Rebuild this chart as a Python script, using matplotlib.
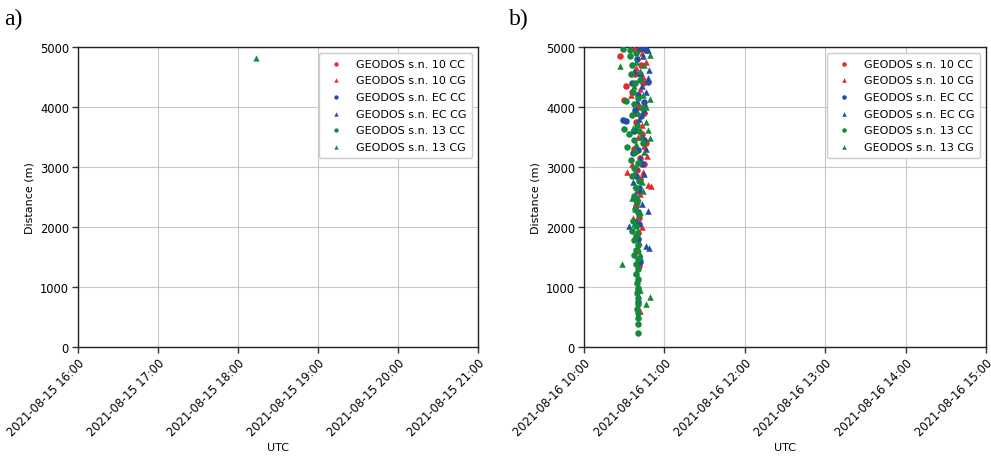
import matplotlib
matplotlib.use("Agg")
import matplotlib.pyplot as plt
import matplotlib.dates as mdates
import pandas as pd

# ---------------- data ----------------
series_labels = ["GEODOS s.n. 10 CC", "GEODOS s.n. 10 CG",
                 "GEODOS s.n. EC CC", "GEODOS s.n. EC CG",
                 "GEODOS s.n. 13 CC", "GEODOS s.n. 13 CG"]

# Panel a) 2021-08-15 : only one detection (13 CG)
a_13cg_time = ["2021-08-15 18:13:30"]
a_13cg_dist = [4820]

# Panel b) 2021-08-16
b_10cc_time = ["10:27:00", "10:31:00", "10:29:30", "10:40:00", "10:42:30", "10:38:00", "10:44:00",
               "10:36:00", "10:41:00", "10:45:00", "10:39:00", "10:43:00", "10:46:00", "10:37:30",
               "10:41:30", "10:44:30", "10:39:30", "10:42:00", "10:40:00", "10:38:30", "10:41:00",
               "10:40:30", "10:39:30", "10:41:00", "10:40:30"]
b_10cc_dist = [4850, 4350, 4120, 4950, 4700, 4550, 4400, 4250, 4000, 3900, 3750, 3550, 3400, 3300,
               3150, 3050, 2950, 2800, 2600, 2350, 2150, 1900, 1600, 1350, 950]

b_10cg_time = ["10:37:00", "10:43:30", "10:46:00", "10:39:00", "10:44:00", "10:41:30", "10:35:00",
               "10:45:30", "10:38:00", "10:43:00", "10:40:30", "10:44:30", "10:47:00", "10:36:00",
               "10:32:00", "10:44:00", "10:48:00", "10:50:00", "10:42:00", "10:39:00", "10:36:30",
               "10:43:00", "10:41:00", "10:40:00", "10:41:30"]
b_10cg_dist = [4980, 4900, 4750, 4650, 4500, 4300, 4200, 4050, 3900, 3700, 3500, 3350, 3180, 3050,
               2920, 2920, 2700, 2680, 2550, 2400, 2150, 2000, 1750, 1150, 600]

b_eccc_time = ["10:44:00", "10:46:00", "10:39:30", "10:42:00", "10:47:30", "10:36:00", "10:40:30",
               "10:44:30", "10:38:00", "10:29:00", "10:31:30", "10:42:30", "10:37:00", "10:45:00",
               "10:40:00", "10:36:30", "10:43:00", "10:38:30", "10:41:00", "10:38:30", "10:40:00",
               "10:41:00", "10:40:00", "10:41:30", "10:40:30"]
b_eccc_dist = [4980, 4950, 4800, 4550, 4420, 4400, 4200, 4080, 3950, 3780, 3760, 3850, 3600, 3450,
               3280, 3230, 3050, 2850, 2650, 2450, 2250, 2050, 1800, 1420, 750]

b_eccg_time = ["10:41:00", "10:47:30", "10:44:00", "10:48:30", "10:48:00", "10:37:00", "10:43:00",
               "10:46:30", "10:39:30", "10:45:00", "10:41:00", "10:38:30", "10:44:00", "10:46:00",
               "10:42:00", "10:39:00", "10:44:30", "10:36:30", "10:41:30", "10:38:00", "10:43:00",
               "10:48:00", "10:33:30", "10:39:00", "10:46:30", "10:48:30", "10:42:00", "10:40:30"]
b_eccg_dist = [4990, 4950, 4850, 4620, 4480, 4600, 4350, 4250, 4100, 3950, 3800, 3650, 3500, 3300,
               3150, 3000, 2880, 2750, 2620, 2550, 2380, 2270, 2010, 2100, 1680, 1650, 1500, 1850]

b_13cc_time = ["10:29:00", "10:34:30", "10:36:00", "10:39:00", "10:35:00", "10:38:00", "10:42:00",
               "10:36:30", "10:40:30", "10:37:00", "10:43:00", "10:35:30", "10:39:30", "10:29:50",
               "10:33:30", "10:41:00", "10:37:00", "10:32:00", "10:38:00", "10:35:00", "10:40:00",
               "10:37:30", "10:36:00", "10:41:00", "10:39:00", "10:37:00", "10:39:30", "10:38:00",
               "10:41:00", "10:36:30", "10:39:00", "10:36:00", "10:38:30", "10:37:30", "10:40:00",
               "10:39:00", "10:37:30", "10:40:30", "10:38:30", "10:40:00", "10:39:00", "10:40:30",
               "10:39:30", "10:40:30", "10:39:30", "10:40:30", "10:40:00", "10:39:30", "10:40:30",
               "10:40:00", "10:40:30", "10:40:30", "10:34:00", "10:31:30", "10:44:00"]
b_13cc_dist = [4960, 4850, 4700, 4900, 4550, 4400, 4450, 4250, 4150, 4050, 3980, 3870, 3700, 3640,
               3550, 3600, 3450, 3330, 3250, 3120, 3060, 2980, 2850, 2770, 2650, 2520, 2420, 2300,
               2200, 2100, 2020, 1930, 1850, 1780, 1700, 1620, 1540, 1460, 1380, 1300, 1220, 1140,
               1060, 980, 900, 810, 720, 640, 560, 480, 390, 240, 4950, 4100, 3400]

b_13cg_time = ["10:27:00", "10:49:00", "10:49:00", "10:49:00", "10:46:30", "10:45:00", "10:38:30",
               "10:41:30", "10:37:00", "10:44:00", "10:40:00", "10:46:00", "10:36:30", "10:42:30",
               "10:47:30", "10:39:00", "10:45:00", "10:41:00", "10:37:30", "10:43:30", "10:40:30",
               "10:36:00", "10:44:00", "10:38:00", "10:42:00", "10:37:00", "10:40:00", "10:41:30",
               "10:28:30", "10:39:00", "10:49:00", "10:46:00", "10:42:00", "10:40:00", "10:38:00"]
b_13cg_dist = [4680, 4870, 4130, 3490, 4000, 4700, 4750, 4600, 4350, 4200, 3900, 3750, 3650, 3500,
               3620, 3380, 3250, 3100, 2900, 2750, 2480, 2480, 2600, 2300, 2250, 2050, 1950, 1550,
               1390, 1250, 840, 710, 950, 1650, 2700]

colors = ["#e8282b", "#e8282b", "#1f4ea6", "#1f4ea6", "#158a3c", "#158a3c"]
markers = ["o", "^", "o", "^", "o", "^"]

# ---------------- figure ----------------
plt.rcParams["font.family"] = ["DejaVu Sans"]
fig = plt.figure(figsize=(9.91, 4.60), dpi=100)
axa = fig.add_axes([0.0787, 0.2435, 0.4036, 0.6522])
axb = fig.add_axes([0.5893, 0.2435, 0.4057, 0.6522])

def to_dt(day, times):
    return pd.to_datetime([f"{day} {t}" for t in times])

a_data = [([], []), ([], []), ([], []), ([], []), ([], []),
          (pd.to_datetime(a_13cg_time), a_13cg_dist)]
b_day = "2021-08-16"
b_data = [(to_dt(b_day, b_10cc_time), b_10cc_dist),
          (to_dt(b_day, b_10cg_time), b_10cg_dist),
          (to_dt(b_day, b_eccc_time), b_eccc_dist),
          (to_dt(b_day, b_eccg_time), b_eccg_dist),
          (to_dt(b_day, b_13cc_time), b_13cc_dist),
          (to_dt(b_day, b_13cg_time), b_13cg_dist)]

def style(ax, start, end, data, msize):
    for (t, d), lab, c, m in zip(data, series_labels, colors, markers):
        if len(t) == 0:
            ax.scatter(pd.to_datetime([]), [], s=msize, c=c, marker=m, label=lab, linewidths=0)
        else:
            ax.scatter(t, d, s=msize, c=c, marker=m, label=lab, linewidths=0, zorder=3)
    ax.set_xlim(pd.Timestamp(start), pd.Timestamp(end))
    ax.set_ylim(0, 5000)
    ax.set_yticks([0, 1000, 2000, 3000, 4000, 5000])
    ax.xaxis.set_major_locator(mdates.HourLocator())
    ax.xaxis.set_major_formatter(mdates.DateFormatter("%Y-%m-%d %H:%M"))
    for lbl in ax.get_xticklabels():
        lbl.set_rotation(45)
        lbl.set_ha("right")
        lbl.set_rotation_mode("anchor")
    ax.tick_params(labelsize=8.3, length=4, width=1, color="#333333", pad=2.5)
    ax.grid(True, color="#c8c8c8", linewidth=0.8)
    ax.set_axisbelow(True)
    for sp in ax.spines.values():
        sp.set_color("#222222")
        sp.set_linewidth(1.0)
    ax.set_xlabel("UTC", fontsize=8, labelpad=3)
    ax.set_ylabel("Distance (m)", fontsize=8, labelpad=4)
    leg = ax.legend(loc="upper right", fontsize=8, markerscale=0.7, framealpha=1,
                    edgecolor="#cccccc", borderpad=0.55, labelspacing=0.6, handletextpad=0.8)
    leg.set_zorder(5)

style(axa, "2021-08-15 16:00", "2021-08-15 21:00", a_data, 20)
style(axb, "2021-08-16 10:00", "2021-08-16 15:00", b_data, 22)

fig.text(0.004, 0.958, "a)", fontsize=17, family=["Liberation Serif"], va="center")
fig.text(0.514, 0.958, "b)", fontsize=17, family=["Liberation Serif"], va="center")

fig.savefig("out.png", dpi=100)
